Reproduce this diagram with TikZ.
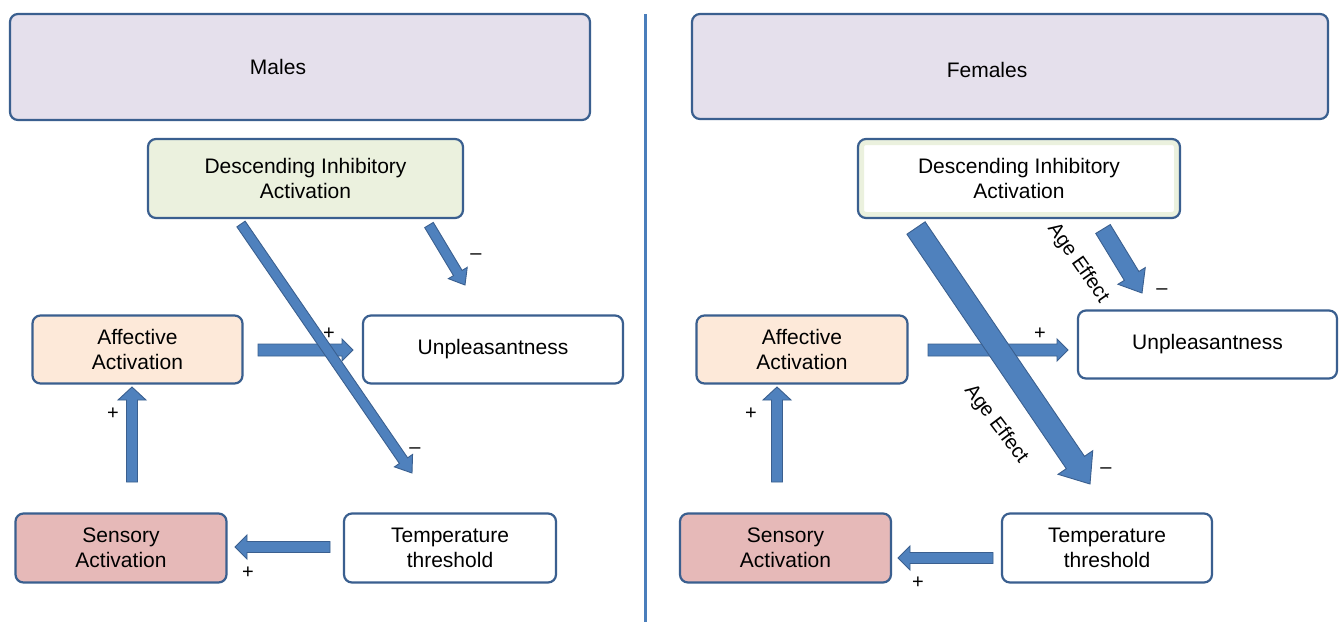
\documentclass[tikz,border=0pt]{standalone}
\usepackage{fontspec}
\setmainfont{Liberation Sans}
\usetikzlibrary{calc}
\definecolor{bord}{HTML}{3A5F8F}
\definecolor{lav}{HTML}{E5E0EC}
\definecolor{lgreen}{HTML}{EBF1DE}
\definecolor{peach}{HTML}{FDE9D9}
\definecolor{pinkf}{HTML}{E6B9B8}
\definecolor{arrf}{HTML}{4F81BD}
\definecolor{arrb}{HTML}{3A5F8F}
\definecolor{divc}{HTML}{4A7EBB}
\tikzset{
  box/.style={draw=bord, line width=2.2pt, rounded corners=8pt, align=center,
    font=\fontsize{21}{25}\selectfont, inner sep=0pt},
  txt/.style={align=center, font=\fontsize{21}{25}\selectfont, inner sep=0pt},
  arrsty/.style={draw=arrb, fill=arrf, line width=0.9pt, line join=miter},
  sign/.style={font=\fontsize{20}{22}\selectfont, inner sep=0pt},
  agetxt/.style={font=\fontsize{20}{24}\selectfont, inner sep=0pt}
}
% #1 from, #2 tip, #3 half shaft, #4 half head, #5 head length
\newcommand{\blockarrow}[5]{%
  \coordinate (tmpc) at ($(#2)!#5!(#1)$);
  \draw[arrsty] ($(#1)!#3!90:(#2)$) -- ($(tmpc)!#3!-90:(#1)$) --
    ($(tmpc)!#4!-90:(#1)$) -- (#2) -- ($(tmpc)!#4!90:(#1)$) --
    ($(tmpc)!#3!90:(#1)$) -- ($(#1)!#3!-90:(#2)$) -- cycle;
}
\begin{document}
\begin{tikzpicture}[x=1pt,y=-1pt]
\useasboundingbox (0,0) rectangle (1340,622);
\fill[white] (0,0) rectangle (1340,622);

% divider
\draw[divc, line width=3pt] (645,14) coordinate (dvt) -- (645,622) coordinate (dvb);

% ---------- Males ----------
\node[box, fill=lav, minimum width=580pt, minimum height=106pt] (males) at (300,67) {};
\node[txt] (malesT) at (278,67) {Males};
\node[box, fill=lgreen, minimum width=315pt, minimum height=79pt] (dL) at (305.5,178.5)
  {Descending Inhibitory\\Activation};
\node[box, fill=peach, minimum width=210pt, minimum height=68pt] (affL) at (137.5,349.5)
  {Affective\\Activation};
\node[box, fill=white, minimum width=260pt, minimum height=68pt] (unpL) at (493,349.5)
  {Unpleasantness};
\node[box, fill=pinkf, minimum width=211pt, minimum height=69pt] (senL) at (121,548)
  {Sensory\\Activation};
\node[box, fill=white, minimum width=212pt, minimum height=69pt] (tmpL) at (450,548)
  {Temperature\\threshold};

\coordinate (aL1) at (132,482); \coordinate (aL2) at (132,387);
\blockarrow{aL1}{aL2}{5.5pt}{14pt}{13pt}
\coordinate (hL1) at (258,350); \coordinate (hL2) at (353,350);
\blockarrow{hL1}{hL2}{6pt}{11pt}{11pt}
\coordinate (tL1) at (330,547); \coordinate (tL2) at (235,547);
\blockarrow{tL1}{tL2}{5.5pt}{12pt}{12pt}
\coordinate (dL1) at (241,224); \coordinate (dL2) at (412,473);
\blockarrow{dL1}{dL2}{5pt}{11pt}{15pt}
\coordinate (sL1) at (429,225); \coordinate (sL2) at (465,285);
\blockarrow{sL1}{sL2}{5pt}{11pt}{14pt}

\node[sign] (pL1) at (329,334) {+};
\node[sign] (mL1) at (415,451) {\textendash};
\node[sign] (mL2) at (476,257) {\textendash};
\node[sign] (pL2) at (113,414) {+};
\node[sign] (pL3) at (248,573) {+};

% ---------- Females ----------
\node[box, fill=lav, minimum width=636pt, minimum height=105pt] (fem) at (1010,66.5) {};
\node[txt] (femT) at (987,70) {Females};
\node[box, fill=white, minimum width=322pt, minimum height=79pt,
  path picture={\draw[lgreen, line width=12pt] (path picture bounding box.south west)
    rectangle (path picture bounding box.north east);}] (dR) at (1019,178.5)
  {Descending Inhibitory\\Activation};
\node[box, fill=peach, minimum width=211pt, minimum height=68pt] (affR) at (802,349.5)
  {Affective\\Activation};
\node[box, fill=white, minimum width=259pt, minimum height=68pt] (unpR) at (1207.5,344.5)
  {Unpleasantness};
\node[box, fill=pinkf, minimum width=211pt, minimum height=69pt] (senR) at (785.5,548)
  {Sensory\\Activation};
\node[box, fill=white, minimum width=210pt, minimum height=69pt] (tmpR) at (1107,548)
  {Temperature\\threshold};

\coordinate (aR1) at (777,482); \coordinate (aR2) at (777,387);
\blockarrow{aR1}{aR2}{5.5pt}{14pt}{13pt}
\coordinate (hR1) at (928,350); \coordinate (hR2) at (1068,350);
\blockarrow{hR1}{hR2}{6pt}{11pt}{11pt}
\coordinate (tR1) at (993,558); \coordinate (tR2) at (898,558);
\blockarrow{tR1}{tR2}{5.5pt}{12pt}{12pt}
\coordinate (dR1) at (916,228); \coordinate (dR2) at (1090,484);
\blockarrow{dR1}{dR2}{11pt}{21pt}{26pt}
\coordinate (sR1) at (1103,229); \coordinate (sR2) at (1142,293);
\blockarrow{sR1}{sR2}{8.5pt}{16pt}{20pt}

\node[agetxt, rotate=-55] (ageU) at (1078,263) {Age Effect};
\node[agetxt, rotate=-53] (ageL) at (996,424) {Age Effect};
\node[sign] (pR1) at (1040,334) {+};
\node[sign] (mR1) at (1106,471) {\textendash};
\node[sign] (mR2) at (1162,292) {\textendash};
\node[sign] (pR2) at (751,414) {+};
\node[sign] (pR3) at (918,583) {+};
\end{tikzpicture}
\end{document}
